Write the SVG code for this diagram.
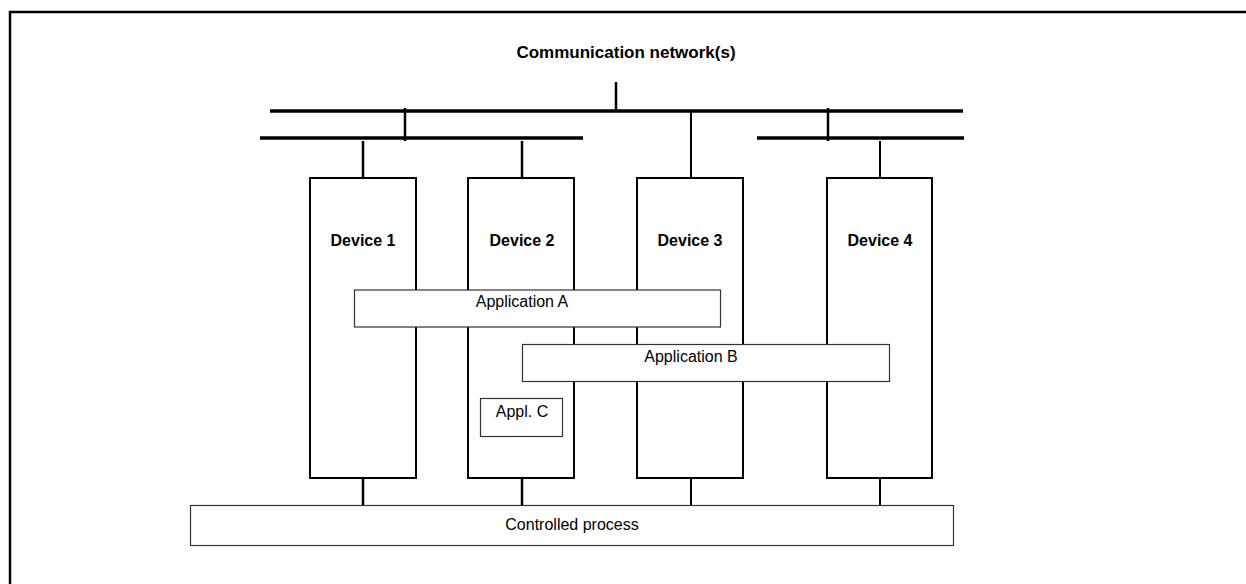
<svg xmlns="http://www.w3.org/2000/svg" width="1246" height="584" viewBox="0 0 1246 584">
  <style>
    .frame { fill: none; stroke: #000; stroke-width: 2.5; }
    .bus { stroke: #000; stroke-width: 3.5; fill: none; }
    .link { stroke: #000; stroke-width: 2.5; fill: none; }
    .link-thin { stroke: #000; stroke-width: 2; fill: none; }
    .device { fill: #fff; stroke: #000; stroke-width: 2; }
    .app { fill: #fff; stroke: #333; stroke-width: 1.2; }
    .title { font-family: "Liberation Sans", Arial, sans-serif; font-weight: bold; font-size: 16px; fill: #000; text-anchor: middle; }
    .heading { font-size: 17px; }
    .label { font-family: "Liberation Sans", Arial, sans-serif; font-size: 16px; fill: #000; text-anchor: middle; }
  </style>

  <rect width="1246" height="584" fill="#fff"/>
  <path class="frame" d="M10,584 V12 H1246"/>

  <text class="title heading" x="626" y="58">Communication network(s)</text>

  <!-- network buses and their links -->
  <g id="connectors">
    <line class="bus" x1="270" y1="111" x2="963" y2="111"/>
    <line class="bus" x1="260" y1="138" x2="583" y2="138"/>
    <line class="bus" x1="757" y1="138" x2="964" y2="138"/>
    <line class="link" x1="616" y1="82" x2="616" y2="112"/>
    <line class="link" x1="405" y1="108" x2="405" y2="141"/>
    <line class="link" x1="828" y1="108" x2="828" y2="141"/>
    <line class="link" x1="363" y1="141" x2="363" y2="178"/>
    <line class="link" x1="522" y1="141" x2="522" y2="178"/>
    <line class="link-thin" x1="691" y1="111" x2="691" y2="178"/>
    <line class="link-thin" x1="880" y1="141" x2="880" y2="178"/>
    <!-- device to process -->
    <line class="link" x1="363" y1="478" x2="363" y2="505"/>
    <line class="link" x1="522" y1="478" x2="522" y2="505"/>
    <line class="link-thin" x1="691" y1="478" x2="691" y2="505"/>
    <line class="link-thin" x1="880" y1="478" x2="880" y2="505"/>
  </g>

  <g id="device1">
    <rect class="device" x="310" y="178" width="106" height="300"/>
    <text class="title" x="363" y="246">Device 1</text>
  </g>
  <g id="device2">
    <rect class="device" x="468" y="178" width="106" height="300"/>
    <text class="title" x="522" y="246">Device 2</text>
  </g>
  <g id="device3">
    <rect class="device" x="637" y="178" width="106" height="300"/>
    <text class="title" x="690" y="246">Device 3</text>
  </g>
  <g id="device4">
    <rect class="device" x="827" y="178" width="105" height="300"/>
    <text class="title" x="880" y="246">Device 4</text>
  </g>

  <g id="appA">
    <rect class="app" x="354.5" y="290" width="366" height="37"/>
    <text class="label" x="522" y="307">Application A</text>
  </g>
  <g id="appB">
    <rect class="app" x="522.5" y="344.5" width="367" height="37"/>
    <text class="label" x="691" y="362">Application B</text>
  </g>
  <g id="appC">
    <rect class="app" x="480.5" y="398.5" width="82" height="38"/>
    <text class="label" x="522" y="417">Appl. C</text>
  </g>

  <g id="process">
    <rect class="app" x="190.5" y="505.5" width="763" height="40"/>
    <text class="label" x="572" y="530">Controlled process</text>
  </g>
</svg>
